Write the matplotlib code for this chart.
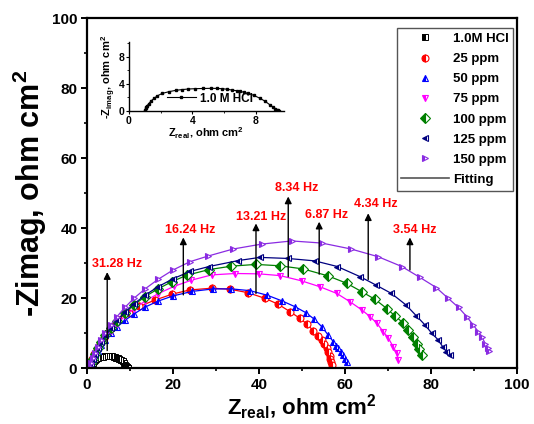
import matplotlib
matplotlib.use("Agg")
import matplotlib.pyplot as plt
from matplotlib.lines import Line2D
from matplotlib.ticker import MultipleLocator

plt.rcParams['font.family'] = ['Liberation Sans', 'DejaVu Sans']
plt.rcParams['font.weight'] = 'bold'
plt.rcParams['mathtext.fontset'] = 'custom'
plt.rcParams['mathtext.rm'] = 'Liberation Sans:bold'
plt.rcParams['mathtext.bf'] = 'Liberation Sans:bold'
plt.rcParams['mathtext.default'] = 'rm'

# ---------------- data ----------------
hcl_x = [1.0, 1.02, 1.05, 1.1, 1.15, 1.25, 1.4, 1.6, 1.8, 2.1, 2.55, 2.95, 3.33, 3.75, 4.18, 4.7,
         5.19, 5.55, 5.86, 6.2, 6.5, 6.8, 7.03, 7.3, 7.55, 7.9, 8.29, 8.6, 8.92, 9.1, 9.25, 9.35, 9.42, 9.48]
hcl_y = [0.05, 0.2, 0.4, 0.6, 0.8, 1.1, 1.5, 1.9, 2.25, 2.6, 2.87, 3.05, 3.16, 3.25, 3.3, 3.33,
         3.35, 3.34, 3.3, 3.22, 3.1, 3.0, 2.9, 2.75, 2.6, 2.3, 1.87, 1.45, 0.89, 0.6, 0.35, 0.2, 0.1, 0.03]

p25_x = [0.5, 0.8, 1.2, 1.7, 2.3, 3.0, 3.9, 5.0, 6.3, 7.9, 9.8, 12.2, 15.8, 19.8, 23.9, 29.0, 33.3,
         37.5, 41.4, 44.5, 47.2, 49.5, 51.1, 52.6, 53.8, 54.6, 55.2, 55.7, 56.1, 56.4, 56.6, 56.8, 56.9]
p25_y = [0.2, 1.2, 2.6, 4.1, 5.5, 7.0, 8.6, 10.4, 12.1, 13.9, 15.7, 17.6, 19.4, 21.1, 22.3, 22.8, 22.5,
         21.5, 19.9, 18.2, 16.1, 14.2, 12.6, 10.7, 9.1, 7.9, 6.8, 5.6, 4.5, 3.4, 2.5, 1.6, 0.9]

p50_x = [0.6, 0.9, 1.3, 1.8, 2.5, 3.3, 4.3, 5.5, 7.0, 8.8, 11.0, 13.5, 16.5, 20.0, 24.5, 29.4, 33.6,
         37.9, 41.9, 45.3, 48.4, 50.9, 52.9, 54.6, 56.1, 57.3, 58.0, 58.4, 59.0, 59.5, 60.0, 60.4]
p50_y = [0.3, 1.2, 2.3, 3.5, 5.0, 6.5, 8.1, 9.9, 11.7, 13.6, 15.5, 17.4, 19.1, 20.6, 21.9, 22.6, 22.6,
         22.1, 20.8, 19.2, 17.5, 15.8, 13.9, 11.8, 9.4, 7.5, 6.4, 5.6, 4.6, 3.7, 2.7, 1.8]

p75_x = [0.6, 0.9, 1.3, 1.8, 2.5, 3.3, 4.3, 5.5, 7.0, 8.8, 11.0, 13.5, 16.5, 20.2, 24.3, 29.0, 34.4,
         40.0, 44.9, 49.9, 54.2, 58.1, 61.2, 63.9, 65.8, 67.4, 68.9, 70.1, 71.2, 72.0, 72.4]
p75_y = [0.3, 1.3, 2.4, 3.7, 5.3, 6.9, 8.7, 10.6, 12.7, 14.8, 17.0, 19.1, 21.2, 23.3, 25.1, 26.6, 27.0,
         26.9, 26.4, 24.9, 23.2, 21.3, 18.9, 16.6, 14.7, 12.8, 10.4, 8.5, 6.1, 4.2, 2.3]

p100_x = [0.6, 0.9, 1.3, 1.8, 2.5, 3.3, 4.3, 5.5, 7.0, 8.8, 11.0, 13.5, 16.5, 19.8, 23.2, 28.3, 33.6,
          39.3, 44.9, 50.3, 56.1, 60.4, 63.9, 67.0, 69.7, 71.6, 73.6, 74.7, 75.9, 76.7, 77.3, 77.8]
p100_y = [0.3, 1.3, 2.6, 3.9, 5.7, 7.4, 9.3, 11.3, 13.5, 15.7, 18.1, 20.4, 22.6, 24.7, 26.5, 28.1, 29.1,
          29.6, 29.2, 28.3, 26.3, 24.2, 21.8, 19.6, 17.0, 14.9, 12.8, 10.9, 9.0, 7.0, 5.3, 3.6]

p125_x = [0.6, 0.9, 1.3, 1.8, 2.5, 3.3, 4.3, 5.5, 7.0, 8.8, 11.0, 13.5, 16.5, 20.0, 24.0, 28.4, 35.2,
          40.2, 46.7, 53.0, 58.2, 63.5, 67.2, 70.8, 74.2, 76.6, 78.6, 80.2, 81.7, 82.7, 83.6, 84.4]
p125_y = [0.2, 1.2, 2.5, 3.9, 5.6, 7.3, 9.3, 11.3, 13.6, 15.9, 18.4, 20.8, 23.2, 25.5, 27.6, 29.0, 30.7,
          31.6, 31.3, 30.6, 29.0, 26.1, 23.7, 21.3, 18.0, 14.9, 12.3, 9.9, 8.0, 6.1, 4.7, 3.7]

p150_x = [0.6, 0.9, 1.3, 1.8, 2.5, 3.3, 4.3, 5.5, 7.0, 8.8, 11.0, 13.5, 16.5, 20.0, 24.0, 28.2, 34.0,
          40.6, 47.6, 54.6, 61.4, 67.7, 73.2, 77.4, 81.2, 84.0, 86.4, 88.3, 89.8, 91.0, 91.8, 92.6, 93.2, 93.6]
p150_y = [0.3, 1.4, 2.8, 4.2, 6.1, 8.0, 10.1, 12.3, 14.7, 17.3, 20.0, 22.6, 25.3, 28.0, 30.4, 32.0, 34.0,
          35.4, 36.3, 35.7, 34.0, 31.8, 29.0, 25.9, 23.0, 19.9, 17.3, 14.7, 12.3, 10.4, 9.0, 7.0, 5.8, 5.0]

series_labels = ['25 ppm', '50 ppm', '75 ppm', '100 ppm', '125 ppm', '150 ppm']
series_colors = ['#ff0000', '#0000ff', '#ff00ff', '#008000', '#000080', '#8a2be2']
series_markers = ['o', '^', 'v', 'D', '<', '>']

freq_labels = ['31.28 Hz', '16.24 Hz', '13.21 Hz', '8.34 Hz', '6.87 Hz', '4.34 Hz', '3.54 Hz']
arrow_x = [4.7, 22.4, 39.3, 46.8, 54.0, 65.4, 75.1]
arrow_base = [5.0, 20.9, 21.3, 26.1, 26.8, 25.3, 28.0]
arrow_tip = [27.4, 37.3, 41.3, 49.0, 41.8, 44.2, 37.3]
label_x = [7.0, 24.0, 40.6, 48.8, 55.7, 67.2, 76.3]
label_y = [29.6, 39.3, 43.2, 51.3, 43.8, 46.8, 39.4]

xs = [p25_x, p50_x, p75_x, p100_x, p125_x, p150_x]
ys = [p25_y, p50_y, p75_y, p100_y, p125_y, p150_y]

# ---------------- figure ----------------
fig = plt.figure(figsize=(5.34, 4.24), dpi=100)
ax = fig.add_axes([87/534, 1-368/424, 430/534, 350/424])

ms = 5
ax.plot(hcl_x, hcl_y, linestyle='-', color='black', lw=0.8, marker='s', ms=4,
        fillstyle='left', markerfacecoloralt='white', mec='black', mew=0.7)
for x, y, c, m in zip(xs, ys, series_colors, series_markers):
    ax.plot(x, y, linestyle='-', color=c, lw=0.9, marker=m, ms=ms,
            fillstyle='left', markerfacecoloralt='white', mec=c, mew=0.8)

for t, ax_x, b, tp, lx, ly in zip(freq_labels, arrow_x, arrow_base, arrow_tip, label_x, label_y):
    ax.annotate('', xy=(ax_x, tp), xytext=(ax_x, b),
                arrowprops=dict(arrowstyle='-|>', color='black', lw=1.0, mutation_scale=10,
                                shrinkA=0, shrinkB=0))
    ax.text(lx, ly, t, color='#ff0000', fontsize=9, fontweight='bold', ha='center', va='center')

ax.set_xlim(0, 100)
ax.set_ylim(0, 100)
ax.xaxis.set_major_locator(MultipleLocator(20))
ax.xaxis.set_minor_locator(MultipleLocator(10))
ax.yaxis.set_major_locator(MultipleLocator(20))
ax.yaxis.set_minor_locator(MultipleLocator(10))
ax.tick_params(which='major', direction='out', length=4, width=1.4, labelsize=11, pad=3)
ax.tick_params(which='minor', direction='out', length=2.5, width=1.2)
for lab in ax.get_xticklabels() + ax.get_yticklabels():
    lab.set_fontweight('bold')
for s in ax.spines.values():
    s.set_linewidth(1.6)

ax.set_xlabel('Z$_{real}$, ohm cm$^{2}$', fontsize=16, fontweight='bold', labelpad=1)
ax.set_ylabel('-Zimag, ohm cm$^{2}$', fontsize=22, fontweight='bold', labelpad=2)

handles = [Line2D([], [], linestyle='none', marker='s', color='black', ms=4,
                  fillstyle='left', markerfacecoloralt='white', mew=0.7)]
for c, m in zip(series_colors, series_markers):
    handles.append(Line2D([], [], linestyle='none', marker=m, color=c, ms=ms,
                          fillstyle='left', markerfacecoloralt='white', mew=0.8))
handles.append(Line2D([], [], color='#555555', lw=1.2))
labels = ['1.0M HCl'] + series_labels + ['Fitting']
leg = ax.legend(handles, labels, loc='upper right', bbox_to_anchor=(0.991, 0.971),
                borderaxespad=0, prop={'weight': 'bold', 'size': 9.5},
                frameon=True, fancybox=False, edgecolor='#555555', framealpha=1,
                labelspacing=0.6, handlelength=3.6, handletextpad=0.3, borderpad=0.35)
leg.get_frame().set_linewidth(1.0)

# ---------------- inset ----------------
ins = fig.add_axes([129/534, 1-111/424, 155/534, 69/424])
ins.plot(hcl_x, hcl_y, linestyle='-', color='black', lw=0.8, marker='s', ms=2,
         label='1.0 M HCl')
ins.set_xlim(0, 9.8)
ins.set_ylim(0, 10.2)
ins.xaxis.set_major_locator(MultipleLocator(4))
ins.xaxis.set_minor_locator(MultipleLocator(2))
ins.yaxis.set_major_locator(MultipleLocator(4))
ins.yaxis.set_minor_locator(MultipleLocator(2))
ins.spines['top'].set_visible(False)
ins.spines['right'].set_visible(False)
for s in ('left', 'bottom'):
    ins.spines[s].set_linewidth(1.0)
ins.tick_params(which='major', direction='out', length=2.5, width=0.8, labelsize=7.5, pad=1)
ins.tick_params(which='minor', direction='out', length=1.5, width=0.6)
for lab in ins.get_xticklabels() + ins.get_yticklabels():
    lab.set_fontweight('bold')
ins.set_xlabel('Z$_{real}$, ohm cm$^{2}$', fontsize=8, fontweight='bold', labelpad=0)
ins.set_ylabel('-Z$_{imag}$, ohm cm$^{2}$', fontsize=8, fontweight='bold', labelpad=0)
ins.legend(loc='lower center', bbox_to_anchor=(0.52, -0.06), frameon=False,
           prop={'weight': 'bold', 'size': 8.5}, handlelength=2.5, handletextpad=0.3)
ins.patch.set_alpha(0)

fig.savefig('out.png', dpi=100)
